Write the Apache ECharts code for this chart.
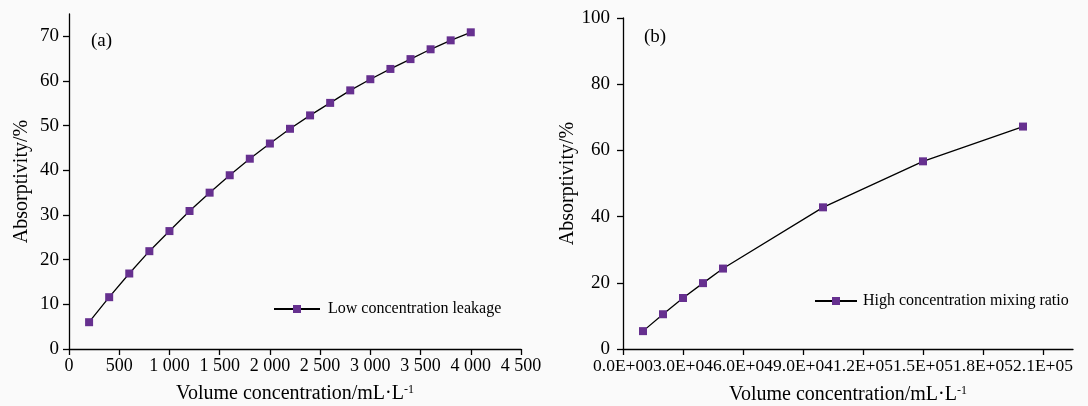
<!DOCTYPE html>
<html>
<head>
<meta charset="utf-8">
<script src="https://cdn.jsdelivr.net/npm/echarts@6/dist/echarts.min.js"></script>
<style>
  html, body { margin: 0; padding: 0; background: #fafafa; }
  #chart { width: 1088px; height: 406px; }
</style>
</head>
<body>
<div id="chart"></div>
<script>
// (a) 低浓度泄漏
const concA = [200, 400, 600, 800, 1000, 1200, 1400, 1600, 1800, 2000,
               2200, 2400, 2600, 2800, 3000, 3200, 3400, 3600, 3800, 4000];
const absA = [6.0, 11.6, 16.9, 21.9, 26.4, 30.9, 35.0, 38.9, 42.6, 46.0,
              49.3, 52.3, 55.1, 57.9, 60.4, 62.7, 64.9, 67.1, 69.1, 70.9];
// (b) 高浓度混合比
const concB = [10000, 20000, 30000, 40000, 50000, 100000, 150000, 200000];
const absB = [5.4, 10.5, 15.4, 19.9, 24.3, 42.8, 56.7, 67.2];

// tick labels
const xTicksA = [0, 500, 1000, 1500, 2000, 2500, 3000, 3500, 4000, 4500];
const yTicksA = [0, 10, 20, 30, 40, 50, 60, 70];
const xTicksB = [0, 30000, 60000, 90000, 120000, 150000, 180000, 210000];
const yTicksB = [0, 20, 40, 60, 80, 100];

const nameA = 'Low concentration leakage';
const nameB = 'High concentration mixing ratio';

const FONT = 'Liberation Serif';
const BLACK = '#000';
const PURPLE = '#66308f';

const fmtThousands = v => v >= 1000
  ? Math.floor(v / 1000) + ' ' + String(v % 1000).padStart(3, '0')
  : String(v);

const fmtSci = v => {
  const e = v === 0 ? 0 : Math.floor(Math.log10(v));
  const m = v / Math.pow(10, e);
  return m.toFixed(1) + 'E+' + String(e).padStart(2, '0');
};

const axisBase = {
  axisLine: { show: true, lineStyle: { color: BLACK, width: 1.3 } },
  axisTick: { show: true, length: 6, lineStyle: { color: BLACK, width: 1.3 } },
  splitLine: { show: false },
  nameLocation: 'middle',
  nameTextStyle: {
    fontFamily: FONT, fontSize: 20, color: BLACK,
    rich: { sup: { fontFamily: FONT, fontSize: 12, color: BLACK, verticalAlign: 'top', lineHeight: 20 } }
  }
};

const xName = 'Volume concentration/mL·L{sup|-1}';

const chart = echarts.init(document.getElementById('chart'), null, { renderer: 'canvas' });

chart.setOption({
  animation: false,
  backgroundColor: '#fafafa',
  title: [
    { text: '(a)', left: 86, top: 27, textStyle: { fontFamily: FONT, fontSize: 19, fontWeight: 'normal', color: BLACK } },
    { text: '(b)', left: 639, top: 23, textStyle: { fontFamily: FONT, fontSize: 19, fontWeight: 'normal', color: BLACK } }
  ],
  legend: [
    {
      data: [nameA], left: 273, top: 301, padding: 0,
      itemWidth: 46, itemHeight: 10,
      textStyle: { fontFamily: FONT, fontSize: 16, color: BLACK, padding: [0, 0, 0, 3] }
    },
    {
      data: [nameB], left: 814, top: 293, padding: 0,
      itemWidth: 42, itemHeight: 10,
      textStyle: { fontFamily: FONT, fontSize: 16, color: BLACK, padding: [0, 0, 0, 1] }
    }
  ],
  grid: [
    { left: 69, top: 14, width: 452, height: 335, outerBoundsMode: 'none', containLabel: false },
    { left: 623, top: 18, width: 450, height: 331, outerBoundsMode: 'none', containLabel: false }
  ],
  xAxis: [
    Object.assign({}, axisBase, {
      type: 'value', gridIndex: 0, min: 0, max: 4500, interval: 500,
      name: xName, nameGap: 35,
      axisTick: Object.assign({}, axisBase.axisTick, { customValues: xTicksA }),
      axisLabel: { customValues: xTicksA, formatter: fmtThousands, fontFamily: FONT, fontSize: 18, color: BLACK, margin: 8 }
    }),
    Object.assign({}, axisBase, {
      type: 'value', gridIndex: 1, min: 0, max: 225000, interval: 30000,
      name: xName, nameGap: 36,
      axisTick: Object.assign({}, axisBase.axisTick, { customValues: xTicksB }),
      axisLabel: { customValues: xTicksB, formatter: fmtSci, fontFamily: FONT, fontSize: 17.5, color: BLACK, margin: 8 }
    })
  ],
  yAxis: [
    Object.assign({}, axisBase, {
      type: 'value', gridIndex: 0, min: 0, max: 75, interval: 10,
      name: 'Absorptivity/%', nameGap: 37,
      axisTick: Object.assign({}, axisBase.axisTick, { customValues: yTicksA }),
      axisLabel: { customValues: yTicksA, fontFamily: FONT, fontSize: 19, color: BLACK, margin: 10 }
    }),
    Object.assign({}, axisBase, {
      type: 'value', gridIndex: 1, min: 0, max: 100, interval: 20,
      name: 'Absorptivity/%', nameGap: 39,
      axisTick: Object.assign({}, axisBase.axisTick, { customValues: yTicksB }),
      axisLabel: { customValues: yTicksB, fontFamily: FONT, fontSize: 19, color: BLACK, margin: 13 }
    })
  ],
  series: [
    {
      name: nameA, type: 'line', xAxisIndex: 0, yAxisIndex: 0,
      data: concA.map((x, i) => [x, absA[i]]),
      symbol: 'rect', symbolSize: 8,
      lineStyle: { color: BLACK, width: 1.3 },
      itemStyle: { color: PURPLE }
    },
    {
      name: nameB, type: 'line', xAxisIndex: 1, yAxisIndex: 1,
      data: concB.map((x, i) => [x, absB[i]]),
      symbol: 'rect', symbolSize: 8,
      lineStyle: { color: BLACK, width: 1.3 },
      itemStyle: { color: PURPLE }
    }
  ]
});
</script>
</body>
</html>
